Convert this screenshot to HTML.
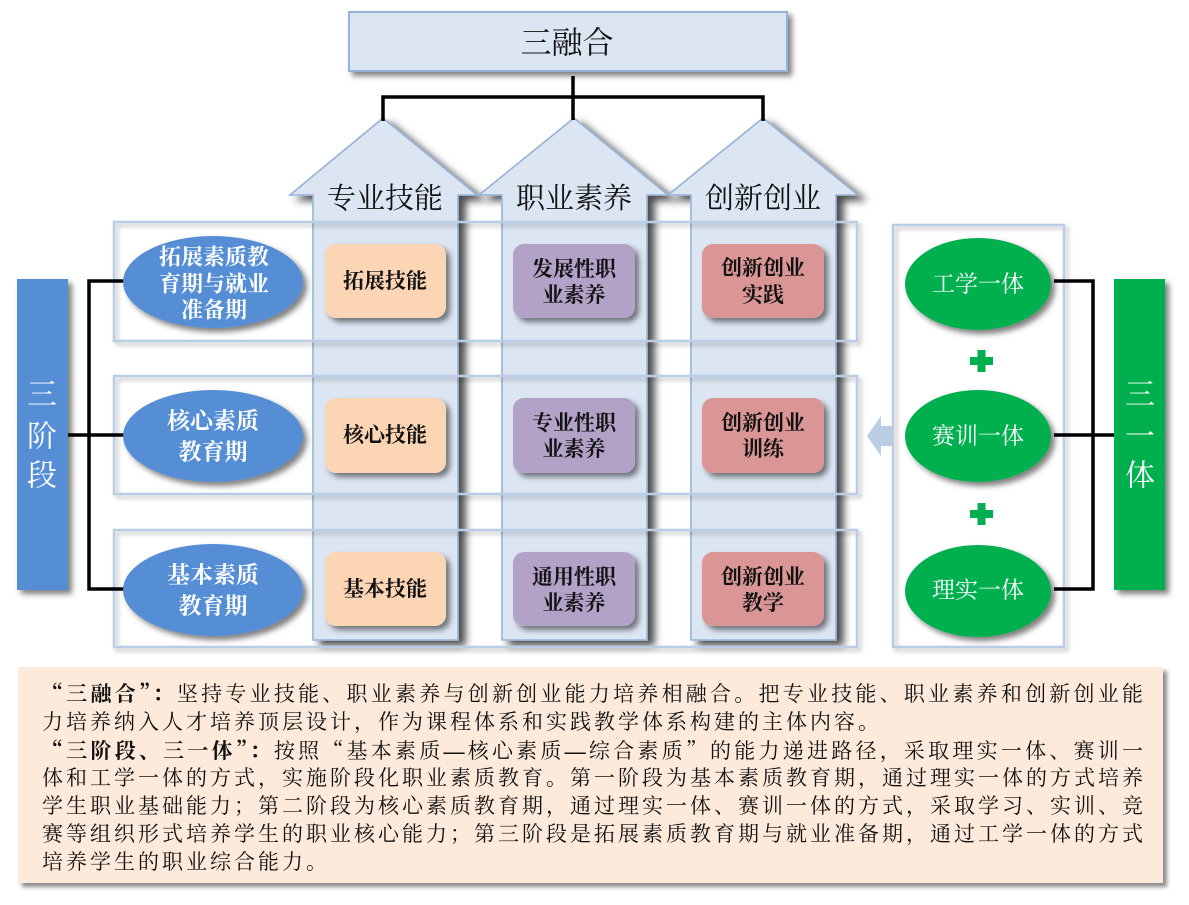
<!DOCTYPE html>
<html>
<head>
<meta charset="utf-8">
<style>
  html,body{margin:0;padding:0;background:#fff;}
  body{width:1189px;height:905px;position:relative;overflow:hidden;}
  svg{position:absolute;left:0;top:0;}
  .tb{position:absolute;left:18px;top:667px;width:1145px;height:216px;background:#fdeada;
      box-shadow:4px 4px 4px rgba(0,0,0,0.45);}
  .txt{position:absolute;left:24px;top:13px;width:1101px;
      font-family:"Liberation Serif","Noto Serif CJK SC",serif;font-size:21px;line-height:27.8px;color:#111;}
  .ln{white-space:nowrap;letter-spacing:3px;}
  .j{text-align:justify;text-align-last:justify;letter-spacing:0;}
  b{font-weight:bold;}
  .q{font-family:"Noto Serif CJK SC",serif;font-feature-settings:"fwid";}
</style>
</head>
<body>
<svg width="1189" height="905" viewBox="0 0 1189 905" xmlns="http://www.w3.org/2000/svg">
  <defs>
    <filter id="sh" x="-20%" y="-20%" width="140%" height="140%">
      <feDropShadow dx="4" dy="4" stdDeviation="3" flood-color="#000" flood-opacity="0.5"/>
    </filter>
    <filter id="sha" x="-20%" y="-20%" width="140%" height="140%">
      <feDropShadow dx="7" dy="5" stdDeviation="4" flood-color="#000" flood-opacity="0.7"/>
    </filter>
    <filter id="shl" x="-10%" y="-10%" width="120%" height="120%">
      <feDropShadow dx="3" dy="3" stdDeviation="2" flood-color="#000" flood-opacity="0.25"/>
    </filter>
  </defs>

  <!-- top box -->
  <rect x="349" y="12" width="438" height="59" fill="#dce6f2" stroke="#95b3d7" stroke-width="2" filter="url(#sh)"/>
  <text x="567" y="43" font-family="'Liberation Serif','Noto Serif CJK SC',serif" font-size="31" text-anchor="middle" dominant-baseline="central" fill="#111">三融合</text>

  <!-- arrows -->
  <path d="M383,118 L290,195 L313,195 L313,640 L458,640 L458,195 L477,195 Z" fill="#dce6f2" stroke="#95b3d7" stroke-width="1.6" filter="url(#sha)"/>
  <path d="M574,118 L479,195 L502,195 L502,640 L647,640 L647,195 L668,195 Z" fill="#dce6f2" stroke="#95b3d7" stroke-width="1.6" filter="url(#sha)"/>
  <path d="M763,118 L668,195 L691,195 L691,640 L836,640 L836,195 L858,195 Z" fill="#dce6f2" stroke="#95b3d7" stroke-width="1.6" filter="url(#sha)"/>

  <g font-family="'Liberation Serif','Noto Serif CJK SC',serif" font-size="29" text-anchor="middle" dominant-baseline="central" fill="#111">
    <text x="385" y="199">专业技能</text>
    <text x="574" y="199">职业素养</text>
    <text x="763" y="199">创新创业</text>
  </g>

  <!-- row boxes -->
  <g fill="none" stroke="#b9cde5" stroke-width="2.5" filter="url(#shl)">
    <rect x="114" y="222" width="743" height="119"/>
    <rect x="114" y="376" width="743" height="118"/>
    <rect x="114" y="530" width="743" height="117"/>
    <rect x="893" y="225" width="171" height="422"/>
  </g>

  <!-- top connectors -->
  <g stroke="#000" stroke-width="3.5" fill="none">
    <path d="M573,76 L573,120"/>
    <path d="M383,121 L383,97 L763,97 L763,121"/>
  </g>

  <!-- left bar -->
  <rect x="17" y="279" width="51" height="311" fill="#558ed5" filter="url(#sh)"/>
  <g font-family="'Liberation Serif','Noto Serif CJK SC',serif" font-size="30" text-anchor="middle" dominant-baseline="central" fill="#fff">
    <text x="42" y="395">三</text>
    <text x="42" y="437">阶</text>
    <text x="42" y="476">段</text>
  </g>

  <!-- left connectors -->
  <g stroke="#000" stroke-width="3.5" fill="none">
    <path d="M126,281 L89,281 L89,589 L126,589"/>
    <path d="M68,435 L126,435"/>
  </g>

  <!-- blue ellipses -->
  <g fill="#558ed5" filter="url(#sh)">
    <ellipse cx="213" cy="282" rx="90" ry="46"/>
    <ellipse cx="213" cy="436" rx="90" ry="46"/>
    <ellipse cx="213" cy="590" rx="90" ry="46"/>
  </g>
  <g font-family="'Liberation Serif','Noto Serif CJK SC',serif" font-weight="bold" text-anchor="middle" dominant-baseline="central" fill="#fff">
    <text x="214" y="257" font-size="22">拓展素质教</text>
    <text x="214" y="284" font-size="22">育期与就业</text>
    <text x="214" y="310" font-size="22">准备期</text>
    <text x="213" y="421" font-size="23">核心素质</text>
    <text x="213" y="452" font-size="23">教育期</text>
    <text x="213" y="575" font-size="23">基本素质</text>
    <text x="213" y="606" font-size="23">教育期</text>
  </g>

  <!-- colored boxes -->
  <g filter="url(#sh)">
    <rect x="325" y="244" width="121" height="74" rx="11" fill="#fcd5b5"/>
    <rect x="325" y="398" width="121" height="75" rx="11" fill="#fcd5b5"/>
    <rect x="325" y="552" width="121" height="74" rx="11" fill="#fcd5b5"/>
    <rect x="513" y="244" width="122" height="74" rx="11" fill="#b3a2c7"/>
    <rect x="513" y="398" width="122" height="75" rx="11" fill="#b3a2c7"/>
    <rect x="513" y="552" width="122" height="74" rx="11" fill="#b3a2c7"/>
    <rect x="702" y="244" width="122" height="74" rx="11" fill="#d99694"/>
    <rect x="702" y="398" width="122" height="75" rx="11" fill="#d99694"/>
    <rect x="702" y="552" width="122" height="74" rx="11" fill="#d99694"/>
  </g>
  <g font-family="'Liberation Serif','Noto Serif CJK SC',serif" font-weight="bold" font-size="21" text-anchor="middle" dominant-baseline="central" fill="#111">
    <text x="385" y="281">拓展技能</text>
    <text x="385" y="435">核心技能</text>
    <text x="385" y="589">基本技能</text>
    <text x="574" y="269">发展性职</text>
    <text x="574" y="295">业素养</text>
    <text x="574" y="423">专业性职</text>
    <text x="574" y="449">业素养</text>
    <text x="574" y="577">通用性职</text>
    <text x="574" y="603">业素养</text>
    <text x="763" y="268">创新创业</text>
    <text x="763" y="295">实践</text>
    <text x="763" y="423">创新创业</text>
    <text x="763" y="449">训练</text>
    <text x="763" y="577">创新创业</text>
    <text x="763" y="603">教学</text>
  </g>

  <!-- small left arrow -->
  <path d="M867,436 L881,416 L881,426 L893,426 L893,446 L881,446 L881,456 Z" fill="#b9cde5"/>

  <!-- right connectors -->
  <g stroke="#000" stroke-width="3.5" fill="none">
    <path d="M1054,281 L1093,281 L1093,589 L1054,589"/>
    <path d="M1054,435 L1114,435"/>
  </g>

  <!-- green ellipses -->
  <g fill="#00b050" filter="url(#sh)">
    <ellipse cx="978" cy="284" rx="73" ry="46"/>
    <ellipse cx="978" cy="436" rx="73" ry="46"/>
    <ellipse cx="978" cy="591" rx="73" ry="46"/>
  </g>
  <g font-family="'Liberation Serif','Noto Serif CJK SC',serif" font-size="23" text-anchor="middle" dominant-baseline="central" fill="#fff">
    <text x="978" y="284">工学一体</text>
    <text x="978" y="436">赛训一体</text>
    <text x="978" y="590">理实一体</text>
  </g>
  <!-- plus signs -->
  <g fill="#00b050">
    <rect x="970" y="357" width="23" height="8"/>
    <rect x="977.5" y="350" width="8" height="22"/>
    <rect x="970" y="510" width="23" height="8"/>
    <rect x="977.5" y="503" width="8" height="22"/>
  </g>

  <!-- right bar -->
  <rect x="1114" y="279" width="51" height="311" fill="#00b050" filter="url(#sh)"/>
  <g font-family="'Liberation Serif','Noto Serif CJK SC',serif" font-size="30" text-anchor="middle" dominant-baseline="central" fill="#fff">
    <text x="1140" y="395">三</text>
    <text x="1140" y="437">一</text>
    <text x="1140" y="476">体</text>
  </g>
</svg>

<div class="tb">
  <div class="txt">
    <div class="ln j"><b><span class="q">“</span>三融合<span class="q">”</span>：</b>坚持专业技能、职业素养与创新创业能力培养相融合。把专业技能、职业素养和创新创业能</div>
    <div class="ln">力培养纳入人才培养顶层设计，作为课程体系和实践教学体系构建的主体内容。</div>
    <div class="ln j"><b><span class="q">“</span>三阶段、三一体<span class="q">”</span>：</b>按照<span class="q">“</span>基本素质<b>—</b>核心素质<b>—</b>综合素质<span class="q">”</span>的能力递进路径，采取理实一体、赛训一</div>
    <div class="ln j">体和工学一体的方式，实施阶段化职业素质教育。第一阶段为基本素质教育期，通过理实一体的方式培养</div>
    <div class="ln j">学生职业基础能力；第二阶段为核心素质教育期，通过理实一体、赛训一体的方式，采取学习、实训、竞</div>
    <div class="ln j">赛等组织形式培养学生的职业核心能力；第三阶段是拓展素质教育期与就业准备期，通过工学一体的方式</div>
    <div class="ln">培养学生的职业综合能力。</div>
  </div>
</div>
</body>
</html>
